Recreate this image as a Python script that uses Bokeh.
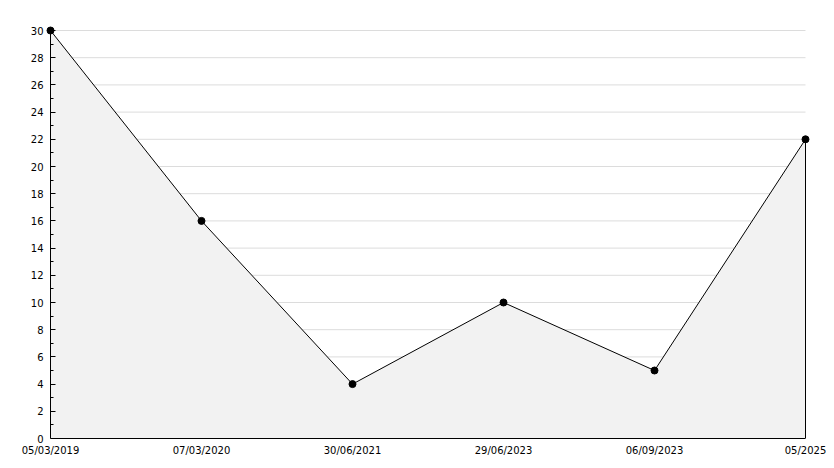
from bokeh.plotting import figure
from bokeh.models import Range1d, FixedTicker, LinearAxis
from bokeh.embed import file_html
from bokeh.resources import INLINE

dates = ["05/03/2019", "07/03/2020", "30/06/2021", "29/06/2023", "06/09/2023", "05/2025"]
values = [30, 16, 4, 10, 5, 22]
y_ticks = list(range(0, 31, 2))
y_minor = list(range(0, 31, 1))

xs = list(range(len(dates)))
xpad = 5 / 151
ymax = 30
ypad = 6 / 13.6

p = figure(width=826, height=460, output_backend="svg", toolbar_location=None,
           x_range=Range1d(-xpad, xs[-1] + xpad), y_range=Range1d(0, ymax + ypad),
           min_border_left=45, min_border_right=16, min_border_top=24, min_border_bottom=22)
p.outline_line_color = None
p.xgrid.visible = False
p.ygrid.visible = False

# grid lines (under the fill)
gy = y_ticks[1:]
p.segment(x0=[xs[0]] * len(gy), y0=gy, x1=[xs[-1]] * len(gy), y1=gy,
          line_color="#dcdcdc", line_width=1)

p.varea(x=xs, y1=[0] * len(xs), y2=values, fill_color="#f2f2f2")
p.segment(x0=[xs[-1]], y0=[0], x1=[xs[-1]], y1=[values[-1]], line_color="black", line_width=1)
p.line(xs, values, line_color="black", line_width=1)
p.scatter(xs, values, marker="circle", size=7, fill_color="black", line_color="black")

font = "DejaVu Sans"

# y axis line and ticks at x = first point
ya = p.yaxis[0]
ya.fixed_location = xs[0]
ya.bounds = (0, ymax)
ya.ticker = FixedTicker(ticks=y_ticks, minor_ticks=y_minor)
ya.major_tick_in = 5
ya.major_tick_out = 0
ya.minor_tick_in = 3
ya.minor_tick_out = 0
ya.major_label_text_color = None
ya.axis_line_color = "black"

# y tick labels
yl = LinearAxis(ticker=FixedTicker(ticks=y_ticks, minor_ticks=[]),
                axis_line_color=None, major_tick_line_color=None, minor_tick_line_color=None,
                major_tick_in=0, major_tick_out=0, minor_tick_in=0, minor_tick_out=0,
                major_label_standoff=2, major_label_text_font=font,
                major_label_text_font_size="10px", major_label_text_color="black")
p.add_layout(yl, "left")

xa = p.xaxis[0]
xa.bounds = (xs[0], xs[-1])
xa.ticker = FixedTicker(ticks=xs, minor_ticks=[])
xa.major_label_overrides = {i: d for i, d in enumerate(dates)}
xa.major_tick_in = 0
xa.major_tick_out = 0
xa.minor_tick_in = 0
xa.minor_tick_out = 0
xa.major_label_standoff = 6
xa.major_label_text_font = font
xa.major_label_text_font_size = "10px"
xa.major_label_text_color = "black"
xa.axis_line_color = "black"

open("out.html", "w").write(file_html(p, INLINE))
